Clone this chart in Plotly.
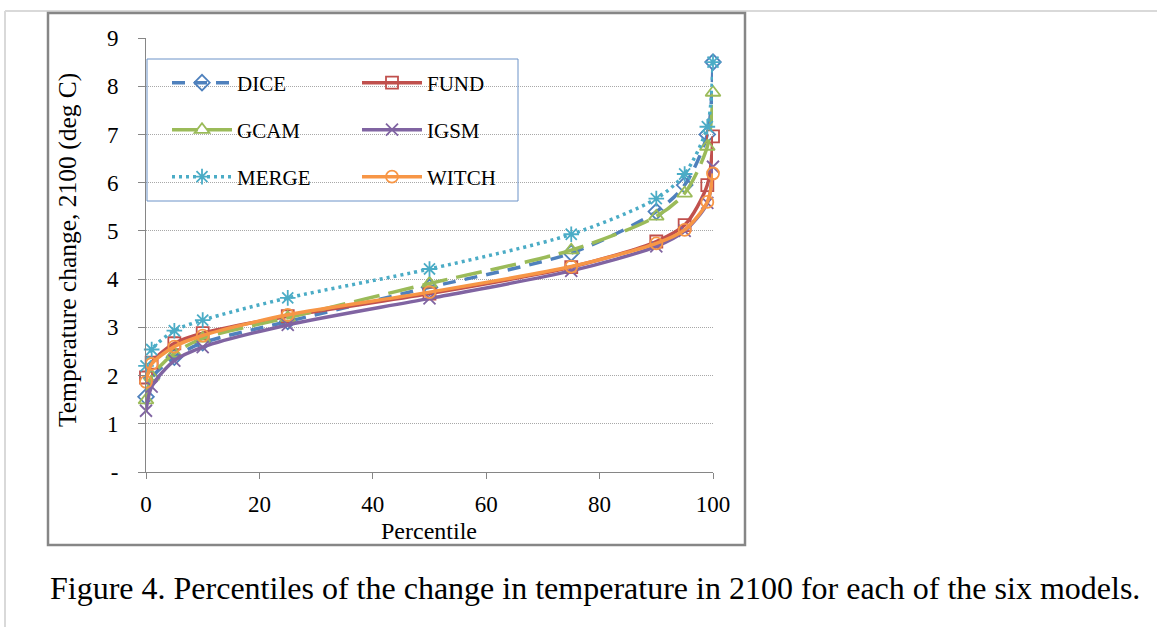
import plotly.graph_objects as go

# ---------------- data ----------------
percentiles = [0, 1, 5, 10, 25, 50, 75, 90, 95, 99, 100]
dice  = [1.56, 1.95, 2.38, 2.68, 3.12, 3.83, 4.54, 5.40, 5.95, 7.00, 8.50]
fund  = [1.96, 2.27, 2.67, 2.88, 3.23, 3.70, 4.25, 4.78, 5.12, 5.95, 6.96]
gcam  = [1.49, 1.98, 2.46, 2.77, 3.20, 3.91, 4.60, 5.30, 5.78, 6.75, 7.87]
igsm  = [1.27, 1.77, 2.31, 2.59, 3.05, 3.60, 4.17, 4.68, 5.00, 5.58, 6.33]
merge = [2.20, 2.54, 2.93, 3.15, 3.61, 4.21, 4.93, 5.67, 6.18, 7.16, 8.50]
witch = [1.87, 2.24, 2.60, 2.83, 3.26, 3.73, 4.26, 4.74, 5.02, 5.60, 6.19]

y_tickvals = [0, 1, 2, 3, 4, 5, 6, 7, 8, 9]
y_ticktext = ["-", "1", "2", "3", "4", "5", "6", "7", "8", "9"]
x_tickvals = [0, 20, 40, 60, 80, 100]

x_title = "Percentile"
y_title = "Temperature change, 2100 (deg C)"
caption = "Figure 4. Percentiles of the change in temperature in 2100 for each of the six models."

# ---------------- layout helpers ----------------
W, H = 1157, 627
L, R, T, B = 146, 444, 38, 155
PW, PH = W - L - R, H - T - B

def px(x):
    return (x - L) / PW

def py(y):
    return (H - B - y) / PH

FONT = "Liberation Serif"
AXIS = "#868686"

series = [
    ("DICE",  dice,  "#4F81BD", "13px,9px", "diamond-open", 12, "legend",  (173, 83)),
    ("FUND",  fund,  "#C0504D", "solid",    "square-open",  12, "legend2", (363, 83)),
    ("GCAM",  gcam,  "#9BBB59", "26px,9px", "triangle-up-open", 13, "legend3", (173, 130)),
    ("IGSM",  igsm,  "#8064A2", "solid",    "x-thin-open",  12, "legend4", (363, 130)),
    ("MERGE", merge, "#4BACC6", "3px,4px",  "asterisk-open", 13, "legend5", (173, 177)),
    ("WITCH", witch, "#F79646", "solid",    "circle-open",  12, "legend6", (363, 177)),
]

fig = go.Figure()
legend_layouts = {}
for name, vals, color, dash, sym, size, leg, (lx, ly) in series:
    fig.add_trace(go.Scatter(
        x=percentiles, y=vals, name=name, mode="lines+markers",
        line=dict(color=color, width=3.5, dash=dash, shape="spline", smoothing=0.8),
        marker=dict(symbol=sym, size=size, color=color, line=dict(color=color, width=1.8)),
        cliponaxis=False, legend=leg,
    ))
    legend_layouts[leg] = dict(
        x=px(lx - 6), y=py(ly), xanchor="left", yanchor="middle",
        bgcolor="rgba(0,0,0,0)", borderwidth=0,
        font=dict(family=FONT, size=21, color="#000"),
        itemwidth=60,
    )

shapes = [
    # page edge lines
    dict(type="line", xref="paper", yref="paper", x0=px(5), x1=px(1157), y0=py(11), y1=py(11),
         line=dict(color="#d9d9d9", width=2)),
    dict(type="line", xref="paper", yref="paper", x0=px(5), x1=px(5), y0=py(11), y1=py(627),
         line=dict(color="#d9d9d9", width=2)),
    # chart border
    dict(type="rect", xref="paper", yref="paper", x0=px(48), x1=px(745), y0=py(545), y1=py(13),
         line=dict(color=AXIS, width=2.5)),
    # legend box
    dict(type="rect", xref="paper", yref="paper", x0=px(147), x1=px(518), y0=py(201), y1=py(59),
         line=dict(color="#6d93c8", width=1)),
]

annotations = [
    dict(text=x_title, xref="paper", yref="paper", x=px(429), y=py(531),
         xanchor="center", yanchor="middle", showarrow=False,
         font=dict(family=FONT, size=24, color="#000")),
    dict(text=y_title, xref="paper", yref="paper", x=px(67), y=py(250),
         xanchor="center", yanchor="middle", showarrow=False, textangle=-90,
         font=dict(family=FONT, size=25.5, color="#000")),
    dict(text=caption, xref="paper", yref="paper", x=px(48), y=py(588),
         xanchor="left", yanchor="middle", showarrow=False,
         font=dict(family=FONT, size=32, color="#000")),
]

fig.update_layout(
    width=W, height=H,
    margin=dict(l=L, r=R, t=T, b=B, pad=0),
    paper_bgcolor="white", plot_bgcolor="white",
    showlegend=True,
    shapes=shapes, annotations=annotations,
    xaxis=dict(range=[0, 100], tickvals=x_tickvals, showgrid=False, zeroline=False,
               showline=True, linecolor=AXIS, linewidth=1,
               ticks="outside", ticklen=6, tickcolor=AXIS, ticklabelstandoff=5,
               tickfont=dict(family=FONT, size=23, color="#000")),
    yaxis=dict(range=[0, 9], tickvals=y_tickvals, ticktext=y_ticktext,
               showgrid=True, gridcolor="#a8a8a8", gridwidth=1, griddash="1px,1px",
               zeroline=False, showline=True, linecolor=AXIS, linewidth=1,
               ticks="outside", ticklen=7, tickcolor=AXIS, ticklabelstandoff=15,
               tickfont=dict(family=FONT, size=23, color="#000")),
    **legend_layouts,
)

fig.write_html("out.html", config={"displayModeBar": False},
               post_script="document.body.style.margin='0px';")
